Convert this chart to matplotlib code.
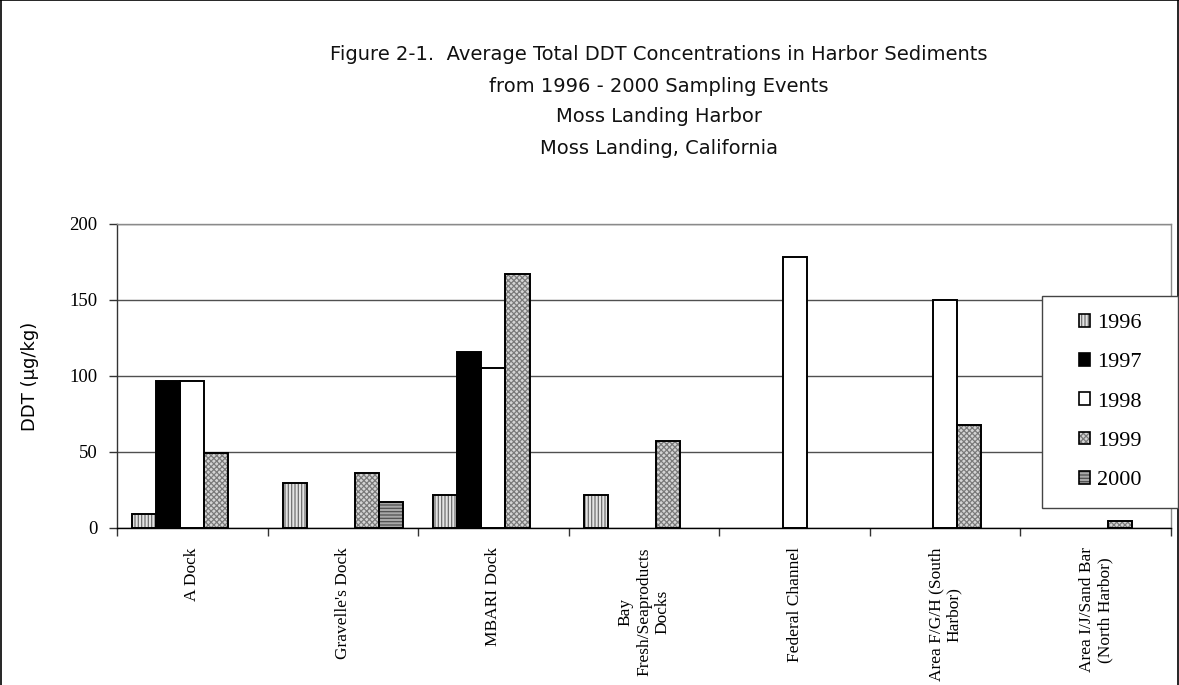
import numpy as np
import matplotlib
matplotlib.use("Agg")
import matplotlib.pyplot as plt
from matplotlib.patches import Patch, Rectangle
from matplotlib.lines import Line2D
from matplotlib.legend_handler import HandlerTuple

# data (NaN = no sample that year)
sites = ["A Dock", "Gravelle's Dock", "MBARI Dock", "Bay\nFresh/Seaproducts\nDocks",
         "Federal Channel", "Area F/G/H (South\nHarbor)", "Area I/J/Sand Bar\n(North Harbor)"]
years = ["1996", "1997", "1998", "1999", "2000"]
nan = np.nan
ddt_1996 = [9, 29.5, 21.5, 21.5, nan, nan, nan]
ddt_1997 = [96.5, nan, 115.5, nan, nan, nan, nan]
ddt_1998 = [96.5, nan, 105.5, nan, 178, 150, nan]
ddt_1999 = [49.5, 36.5, 167, 57, nan, 68, 4.4]
ddt_2000 = [nan, 17, nan, nan, nan, nan, nan]
series = [ddt_1996, ddt_1997, ddt_1998, ddt_1999, ddt_2000]

# fill colour, hatch, hatch colour per year
styles = [("#e4e4e4", "|||||", "#707070"),
          ("black", None, "black"),
          ("white", None, "white"),
          ("#d4d4d4", "xxxxxx", "#7a7a7a"),
          ("#a8a8a8", "-----", "#505050")]

plt.rcParams["hatch.linewidth"] = 0.9
serif = "Liberation Serif"
W, H = 1179, 685

fig = plt.figure(figsize=(W / 100, H / 100), dpi=100)
ax = fig.add_axes([117 / W, 1 - 528 / H, (1171 - 117) / W, (528 - 224) / H])

x = np.arange(len(sites))
w = 0.16
handles = []
for i, (vals, (fc, hatch, hc)) in enumerate(zip(series, styles)):
    vals = np.array(vals, dtype=float)
    pos = x + (i - 2) * w
    # fill + hatch first, then the black outline on top
    ax.bar(pos, vals, w, color=fc, hatch=hatch, edgecolor=hc, linewidth=0, zorder=2)
    ax.bar(pos, vals, w, fill=False, edgecolor="black", linewidth=1.4, zorder=3)
    h1 = Patch(facecolor=fc, hatch=hatch, edgecolor=hc, linewidth=0)
    h2 = Patch(fill=False, edgecolor="black", linewidth=1.2)
    handles.append((h1, h2))

ax.set_xlim(-0.5, len(sites) - 0.5)
ax.set_ylim(0, 200)
ax.set_yticks([0, 50, 100, 150, 200])
ax.yaxis.grid(True, color="#505050", linewidth=1)
ax.set_axisbelow(True)

ax.set_xticks(x)
ax.set_xticklabels(sites, rotation=90, va="top", ha="center", multialignment="center",
                   fontfamily=serif, fontsize=12.5)
ax.set_xticks(np.arange(len(sites) + 1) - 0.5, minor=True)
ax.tick_params(axis="x", which="major", length=0, pad=14)
ax.tick_params(axis="x", which="minor", length=6, width=1, color="#333333")
ax.tick_params(axis="y", length=6, width=1, color="#333333", pad=8)
for lab in ax.get_yticklabels():
    lab.set_fontfamily(serif)
    lab.set_fontsize(13.5)

ax.spines["left"].set_color("#333333")
ax.spines["bottom"].set_color("black")
ax.spines["top"].set_color("#8a8a8a")
ax.spines["right"].set_color("#8a8a8a")
for s in ax.spines.values():
    s.set_linewidth(1)

ax.set_ylabel("DDT (µg/kg)", fontfamily="DejaVu Sans", fontsize=13, labelpad=22)

title_lines = ["Figure 2-1.  Average Total DDT Concentrations in Harbor Sediments",
               "from 1996 - 2000 Sampling Events",
               "Moss Landing Harbor",
               "Moss Landing, California"]
title_y = [55, 86, 117, 148]
for txt, ty in zip(title_lines, title_y):
    fig.text(659 / W, 1 - ty / H, txt, ha="center", va="center",
             fontfamily="DejaVu Sans", fontsize=14, color="#111111")

# legend box drawn separately so it can be wider than its contents
lx0, lx1, ly0, ly1 = 1042, 1178, 296, 508
fig.add_artist(Rectangle((lx0 / W, 1 - ly1 / H), (lx1 - lx0) / W, (ly1 - ly0) / H,
                         transform=fig.transFigure, facecolor="white",
                         edgecolor="#444444", linewidth=1, zorder=4))
leg = fig.legend(handles, years, handler_map={tuple: HandlerTuple(ndivide=1, pad=0)},
                 loc="center", bbox_to_anchor=((lx0 + lx1) / 2 / W, 1 - (ly0 + ly1) / 2 / H),
                 bbox_transform=fig.transFigure, borderaxespad=0, frameon=False,
                 prop={"family": serif, "size": 16}, handlelength=0.5, handleheight=0.5,
                 handletextpad=0.3, labelspacing=0.9, borderpad=0)
leg.set_zorder(6)

# outer frame of the figure
for xs, ys in [([0.0006, 0.0006], [0, 1]), ([0, 1], [0.9994, 0.9994]), ([0.9994, 0.9994], [0, 1])]:
    fig.add_artist(Line2D(xs, ys, color="black", linewidth=1.2, transform=fig.transFigure))

fig.savefig("out.png", dpi=100)
